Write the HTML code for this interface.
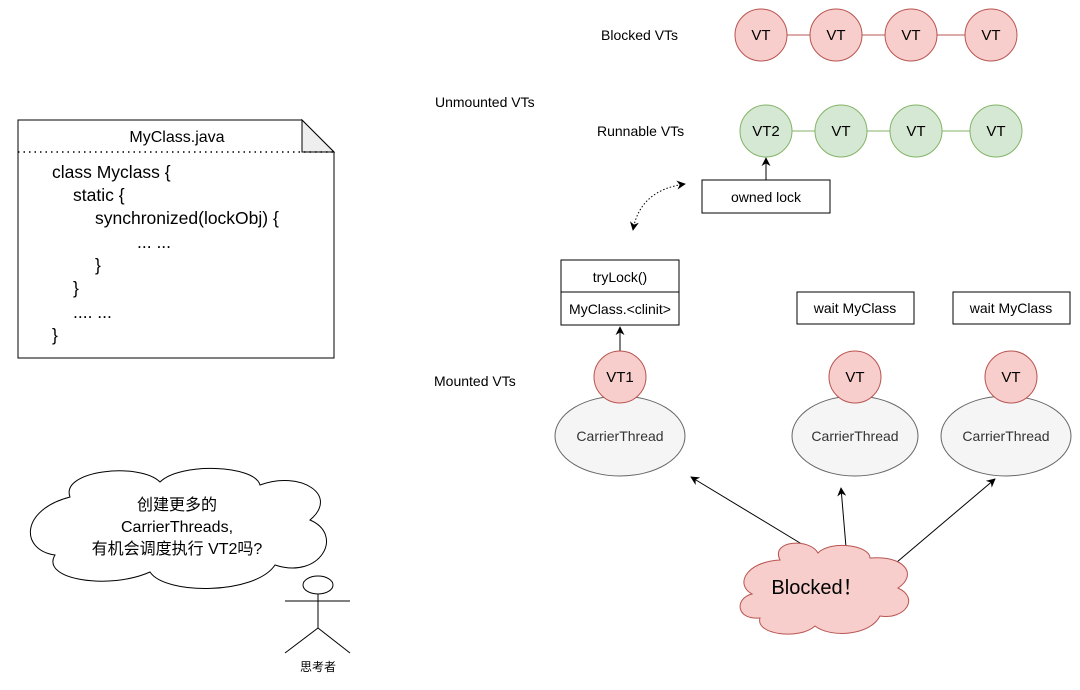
<!DOCTYPE html>
<html><head><meta charset="utf-8"><style>
html,body{margin:0;padding:0;background:#fff;}
svg text{font-family:"Liberation Sans","Noto Sans CJK SC",sans-serif;}
</style></head><body>
<svg width="1080" height="685" viewBox="0 0 1080 685" xmlns="http://www.w3.org/2000/svg">
<defs>
<marker id="a" viewBox="0 0 10 10" refX="9" refY="5" markerWidth="9" markerHeight="9" orient="auto-start-reverse"><path d="M0,0 L10,5 L0,10 L3,5 z" fill="#000"/></marker>
</defs>
<!-- note -->
<path d="M18,120 H302 L334,152 V358 H18 Z" fill="#fff" stroke="#000" stroke-width="1"/>
<path d="M302,120 V152 H334 Z" fill="#eee" stroke="#000" stroke-width="1"/>
<line x1="18" y1="152" x2="334" y2="152" stroke="#000" stroke-width="1.5" stroke-dasharray="1.5,4"/>
<text x="177" y="142" font-size="16" text-anchor="middle">MyClass.java</text>
<g font-size="17.5">
<text x="52" y="178">class Myclass {</text>
<text x="73" y="201">static {</text>
<text x="95" y="224">synchronized(lockObj) {</text>
<text x="137" y="248">... ...</text>
<text x="95" y="271">}</text>
<text x="73" y="294">}</text>
<text x="73" y="318">.... ...</text>
<text x="52" y="341">}</text>
</g>
<!-- labels -->
<g font-size="14">
<text x="601" y="40">Blocked VTs</text>
<text x="435" y="107">Unmounted VTs</text>
<text x="597" y="136">Runnable VTs</text>
<text x="434" y="386">Mounted VTs</text>
</g>
<!-- blocked -->
<line x1="761" y1="35" x2="991" y2="35" stroke="#b85450"/>
<g fill="#f8cecc" stroke="#b85450">
<circle cx="761" cy="35" r="26"/><circle cx="836" cy="35" r="26"/><circle cx="911" cy="35" r="26"/><circle cx="991" cy="35" r="26"/>
</g>
<g font-size="15" text-anchor="middle">
<text x="761" y="40">VT</text><text x="836" y="40">VT</text><text x="911" y="40">VT</text><text x="991" y="40">VT</text>
</g>
<!-- runnable -->
<line x1="766" y1="131" x2="996" y2="131" stroke="#82b366"/>
<g fill="#d5e8d4" stroke="#82b366">
<circle cx="766" cy="131" r="26"/><circle cx="841" cy="131" r="26"/><circle cx="916" cy="131" r="26"/><circle cx="996" cy="131" r="26"/>
</g>
<g font-size="15" text-anchor="middle">
<text x="766" y="136">VT2</text><text x="841" y="136">VT</text><text x="916" y="136">VT</text><text x="996" y="136">VT</text>
</g>
<rect x="702" y="180" width="128" height="33" fill="#fff" stroke="#000"/>
<text x="766" y="202" font-size="14" text-anchor="middle">owned lock</text>
<line x1="766" y1="180" x2="766" y2="158" stroke="#000" marker-end="url(#a)"/>
<path d="M633,230 Q640,190 685,184" fill="none" stroke="#000" stroke-dasharray="1.5,2" marker-start="url(#a)" marker-end="url(#a)"/>
<!-- trylock -->
<rect x="561" y="260" width="118" height="65" fill="#fff" stroke="#000"/>
<line x1="561" y1="292" x2="679" y2="292" stroke="#000"/>
<text x="620" y="282" font-size="14" text-anchor="middle">tryLock()</text>
<text x="620" y="314" font-size="14" text-anchor="middle">MyClass.&lt;clinit&gt;</text>
<line x1="620" y1="351" x2="620" y2="327" stroke="#000" marker-end="url(#a)"/>
<rect x="797" y="292" width="117" height="32" fill="#fff" stroke="#000"/>
<text x="855" y="313" font-size="14" text-anchor="middle">wait MyClass</text>
<rect x="953" y="292" width="117" height="32" fill="#fff" stroke="#000"/>
<text x="1011" y="313" font-size="14" text-anchor="middle">wait MyClass</text>
<!-- carriers -->
<g fill="#f5f5f5" stroke="#666">
<ellipse cx="620" cy="436" rx="65" ry="40"/><ellipse cx="855" cy="436" rx="63" ry="40"/><ellipse cx="1006" cy="436" rx="65" ry="40"/>
</g>
<g font-size="14" text-anchor="middle" fill="#333">
<text x="620" y="441">CarrierThread</text><text x="855" y="441">CarrierThread</text><text x="1006" y="441">CarrierThread</text>
</g>
<g fill="#f8cecc" stroke="#b85450">
<circle cx="620" cy="377" r="26"/><circle cx="855" cy="377" r="26"/><circle cx="1011" cy="377" r="26"/>
</g>
<g font-size="15" text-anchor="middle">
<text x="620" y="382">VT1</text><text x="855" y="382">VT</text><text x="1011" y="382">VT</text>
</g>
<!-- arrows from blocked -->
<g stroke="#000" fill="none">
<line x1="805" y1="546" x2="691" y2="477" marker-end="url(#a)"/>
<line x1="846" y1="547" x2="841" y2="488" marker-end="url(#a)"/>
<line x1="897" y1="562" x2="995" y2="479" marker-end="url(#a)"/>
</g>
<path d="M780,560 C770,540 810,538 818,553 C830,540 870,545 870,558 C905,555 918,575 898,588 C920,598 905,620 880,616 C870,636 830,638 815,626 C800,640 755,635 760,618 C735,620 735,598 752,594 C735,585 745,562 780,560 Z" fill="#f8cecc" stroke="#b85450"/>
<text x="817" y="594" font-size="20" text-anchor="middle">Blocked！</text>
<!-- thought cloud -->
<path d="M70,497 C60,470 140,462 160,482 C180,462 255,465 260,485 C300,470 340,495 310,520 C345,535 320,580 275,565 C255,595 165,595 150,572 C110,590 40,580 55,555 C20,550 20,510 70,497 Z" fill="#fff" stroke="#000"/>
<g font-size="16" text-anchor="middle">
<text x="177" y="510">创建更多的</text>
<text x="177" y="532">CarrierThreads,</text>
<text x="177" y="554">有机会调度执行 VT2吗?</text>
</g>
<!-- stick figure -->
<g stroke="#000" fill="#fff">
<ellipse cx="318" cy="585" rx="15" ry="9"/>
<line x1="318" y1="594" x2="318" y2="628"/>
<line x1="285" y1="601" x2="350" y2="601"/>
<line x1="318" y1="628" x2="285" y2="653"/>
<line x1="318" y1="628" x2="350" y2="653"/>
</g>
<text x="318" y="671" font-size="12" text-anchor="middle">思考者</text>
</svg>
</body></html>
